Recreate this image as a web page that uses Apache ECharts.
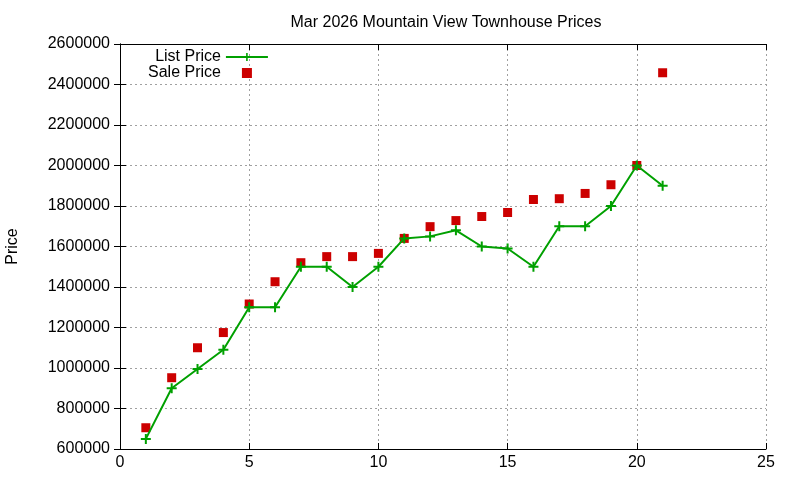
<!DOCTYPE html>
<html>
<head>
<meta charset="utf-8">
<script src="https://cdn.jsdelivr.net/npm/echarts@6/dist/echarts.min.js"></script>
<style>
html,body{margin:0;padding:0;background:#fff;}
#chart{width:800px;height:480px;}
</style>
</head>
<body>
<div id="chart"></div>
<script>
var listX = [1,2,3,4,5,6,7,8,9,10,11,12,13,14,15,16,17,18,19,20,21];
var listPrice = [650000,900000,995000,1090000,1300000,1300000,1500000,1500000,1400000,1500000,1640000,1650000,1680000,1600000,1590000,1500000,1700000,1700000,1800000,2000000,1900000];
var salePrice = [705000,952000,1100000,1175000,1316000,1426000,1520000,1550000,1550000,1566000,1640000,1698000,1728000,1748000,1768000,1832000,1836000,1862000,1905000,2000000,2458000];

var font = 'Liberation Sans, Arial, sans-serif';
var plusPath = 'path://M4,0h2v4h4v2h-4v4h-2v-4h-4v-2h4z';
var squarePath = 'path://M0,0h10v10h-10z';

function pairs(xs, ys) {
    return xs.map(function (x, i) { return [x, ys[i]]; });
}

var chart = echarts.init(document.getElementById('chart'));

var option = {
    animation: false,
    title: {
        text: 'Mar 2026 Mountain View Townhouse Prices',
        left: 441,
        top: 10,
        textAlign: 'center',
        textStyle: {fontFamily: font, fontSize: 16, fontWeight: 'normal', color: '#000'}
    },
    legend: {
        orient: 'vertical',
        left: 143,
        top: 44,
        align: 'right',
        itemGap: 0,
        itemWidth: 42,
        itemHeight: 10,
        symbolKeepAspect: true,
        textStyle: {fontFamily: font, fontSize: 16, color: '#000'},
        data: [
            {name: 'List Price'},
            {name: 'Sale Price', icon: squarePath, itemStyle: {color: '#cc0000', opacity: 1}}
        ]
    },
    grid: {left: 120, right: 34, top: 44, bottom: 31, outerBoundsMode: 'none', containLabel: false},
    xAxis: [
        {
            type: 'value', min: 0, max: 25, interval: 5,
            axisLine: {lineStyle: {color: '#000', width: 1}},
            axisTick: {inside: true, length: 6, lineStyle: {color: '#000'}},
            axisLabel: {fontFamily: font, fontSize: 16, color: '#000', margin: 6},
            splitLine: {show: true, lineStyle: {color: '#a0a0a0', type: [2, 3]}}
        },
        {
            type: 'value', min: 0, max: 25, interval: 5, position: 'top',
            axisLine: {lineStyle: {color: '#000', width: 1}},
            axisTick: {inside: true, length: 6, lineStyle: {color: '#000'}},
            axisLabel: {show: false},
            splitLine: {show: false}
        }
    ],
    yAxis: [
        {
            type: 'value', min: 600000, max: 2600000, interval: 200000,
            name: 'Price', nameLocation: 'middle', nameGap: 99, nameRotate: 90,
            nameTextStyle: {fontFamily: font, fontSize: 16, color: '#000'},
            axisLine: {show: true, lineStyle: {color: '#000', width: 1}},
            axisTick: {show: true, inside: true, length: 6, lineStyle: {color: '#000'}},
            axisLabel: {
                fontFamily: font, fontSize: 16, color: '#000', margin: 10,
                formatter: function (v) { return String(v); }
            },
            splitLine: {show: true, lineStyle: {color: '#a0a0a0', type: [2, 3]}}
        },
        {
            type: 'value', min: 600000, max: 2600000, interval: 200000, position: 'right',
            axisLine: {show: true, lineStyle: {color: '#000', width: 1}},
            axisTick: {show: true, inside: true, length: 6, lineStyle: {color: '#000'}},
            axisLabel: {show: false},
            splitLine: {show: false}
        }
    ],
    series: [
        {
            name: 'List Price',
            type: 'line',
            data: pairs(listX, listPrice),
            symbol: plusPath,
            symbolSize: 10,
            showAllSymbol: true,
            lineStyle: {color: '#00a000', width: 2},
            itemStyle: {color: '#00a000'},
            z: 3
        },
        {
            name: 'Sale Price',
            type: 'scatter',
            data: pairs(listX, salePrice),
            symbol: 'rect',
            symbolSize: 9,
            itemStyle: {color: '#cc0000', opacity: 1},
            z: 2
        }
    ]
};

option && chart.setOption(option);
</script>
</body>
</html>
